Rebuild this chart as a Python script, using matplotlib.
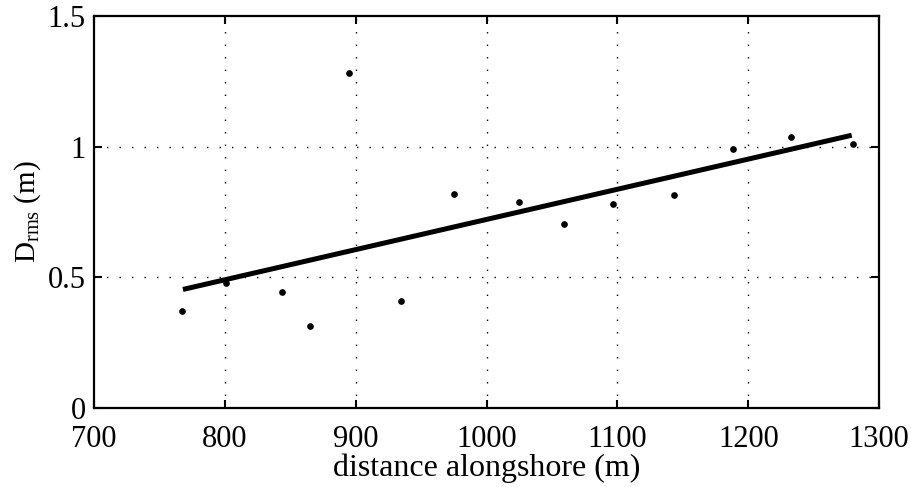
import matplotlib
matplotlib.use("Agg")
import matplotlib.pyplot as plt

# Data
dist = [767, 801, 844, 865, 895, 935, 975, 1025, 1059, 1097, 1143, 1188, 1233, 1280]
drms = [0.371, 0.478, 0.445, 0.315, 1.281, 0.41, 0.818, 0.788, 0.704, 0.782, 0.815, 0.991, 1.037, 1.011]
fit_x = [768, 1279]
fit_y = [0.454, 1.044]
xticks = [700, 800, 900, 1000, 1100, 1200, 1300]
yticks = [0, 0.5, 1, 1.5]
ytick_labels = ["0", "0.5", "1", "1.5"]

plt.rcParams['font.family'] = ['Liberation Serif', 'DejaVu Serif']
plt.rcParams['mathtext.fontset'] = 'custom'
plt.rcParams['mathtext.rm'] = 'Liberation Serif'
plt.rcParams['mathtext.it'] = 'Liberation Serif:italic'

fig = plt.figure(figsize=(9.12, 4.87), dpi=100)
ax = fig.add_axes([0.103, 0.162, 0.861, 0.805])

for gx in xticks[1:-1]:
    ax.axvline(gx, color='black', lw=1.0, ls=(0, (1, 8)), zorder=1)
for gy in yticks[1:-1]:
    ax.axhline(gy, color='black', lw=1.0, ls=(0, (1, 8)), zorder=1)

ax.plot(fit_x, fit_y, color='black', lw=3.6, solid_capstyle='butt', zorder=3)
ax.plot(dist, drms, 'o', color='black', ms=3.8, zorder=4)

ax.set_xlim(700, 1300)
ax.set_ylim(0, 1.5)
ax.set_xticks(xticks)
ax.set_yticks(yticks)
ax.set_yticklabels(ytick_labels)
ax.tick_params(direction='in', length=6, width=1.5, top=True, right=True,
               labelsize=22)
ax.tick_params(axis='x', pad=12)
ax.tick_params(axis='y', pad=6)
for s in ax.spines.values():
    s.set_linewidth(1.6)

ax.set_xlabel('distance alongshore (m)', fontsize=23, labelpad=0)
ax.set_ylabel(r'D$_{\mathrm{rms}}$ (m)', fontsize=21, labelpad=3)

fig.savefig('out.png', dpi=100)
